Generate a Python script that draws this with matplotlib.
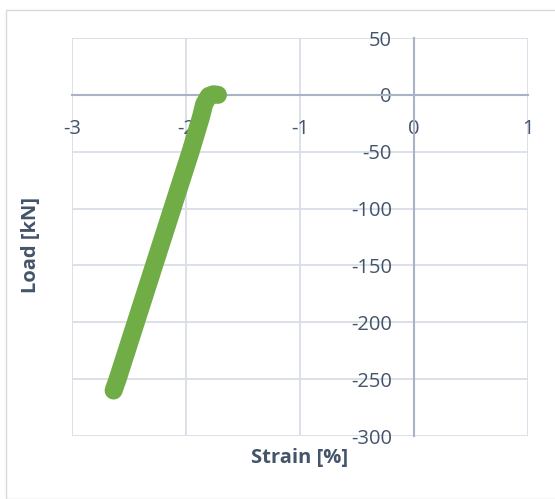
import matplotlib.pyplot as plt
from matplotlib.patches import Rectangle

plt.rcParams['font.family'] = ['Open Sans', 'DejaVu Sans']
plt.rcParams['axes.unicode_minus'] = False

# strain [%] vs load [kN]
strain = [-2.635, -2.60, -2.44, -2.28, -2.12, -1.96, -1.87, -1.84, -1.80, -1.76, -1.72]
load = [-260, -250, -200, -150, -100, -50, -20, -8, -1, 0.5, 0]

x_ticks = [-3, -2, -1, 0, 1]
y_ticks = [50, 0, -50, -100, -150, -200, -250, -300]

green = '#70AD47'
text_col = '#44546A'
grid_col = '#D9DDE6'
axis_col = '#A9B3C6'

fig = plt.figure(figsize=(5.55, 4.99), dpi=100)
fig.patches.append(Rectangle((6 / 555, 0), 1, 1 - 10 / 499, transform=fig.transFigure,
                             fill=False, edgecolor='#D9D9D9', linewidth=1))

ax = fig.add_axes([72 / 555, 1 - 436 / 499, 456 / 555, 398 / 499])
ax.plot(strain, load, color=green, linewidth=13, solid_capstyle='round',
        solid_joinstyle='round', zorder=3)

ax.set_xlim(-3, 1)
ax.set_ylim(-300, 50)
ax.set_xticks(x_ticks)
ax.set_yticks(y_ticks)
ax.grid(True, color=grid_col, linewidth=1.3)
ax.set_axisbelow(True)

for s in ['top', 'right']:
    ax.spines[s].set_visible(False)
ax.spines['left'].set_position(('data', 0))
ax.spines['bottom'].set_position(('data', 0))
for s in ['left', 'bottom']:
    ax.spines[s].set_color(axis_col)
    ax.spines[s].set_linewidth(1.5)

ax.tick_params(length=0, labelsize=14.5, labelcolor=text_col, pad=16)
ax.tick_params(axis='x', pad=17.5)

fig.text(300 / 555, 1 - 458 / 499, 'Strain [%]', ha='center', va='center',
         fontsize=14.5, fontweight='bold', color=text_col)
fig.text(31 / 555, 1 - 245 / 499, 'Load [kN]', ha='center', va='center', rotation=90,
         fontsize=14.5, fontweight='bold', color=text_col)

fig.savefig('out.png', dpi=100)
